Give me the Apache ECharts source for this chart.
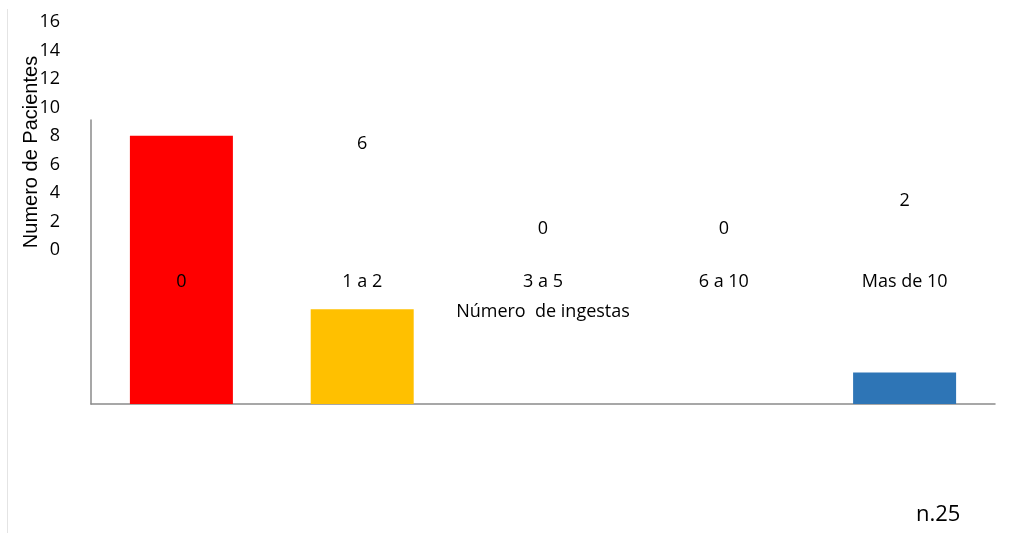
<!DOCTYPE html>
<html>
<head>
<meta charset="utf-8">
<script src="https://cdn.jsdelivr.net/npm/echarts@6/dist/echarts.min.js"></script>
<style>
  html, body { margin: 0; padding: 0; background: #fff; }
  #chart { width: 1013px; height: 533px; }
</style>
</head>
<body>
<div id="chart"></div>
<script>
// categorias y valores (n = 25)
const categorias = ['0', '1 a 2', '3 a 5', '6 a 10', 'Mas de 10'];
const pacientes = [17, 6, 0, 0, 2];
const colores = ['#FF0000', '#FFC000', '#A5A5A5', '#4472C4', '#2E75B6'];
const ticksY = [0, 2, 4, 6, 8, 10, 12, 14, 16];

const fuente = '"Open Sans"';
const chart = echarts.init(document.getElementById('chart'));

const option = {
  animation: false,
  textStyle: { fontFamily: fuente },
  title: {
    text: 'n.25',
    left: 911,
    top: 499,
    textStyle: { fontFamily: fuente, fontSize: 22, fontWeight: 'normal', color: '#000' }
  },
  graphic: [
    {
      type: 'line',
      shape: { x1: 7.5, y1: 9, x2: 7.5, y2: 533 },
      style: { stroke: '#e4e4e4', lineWidth: 1 }
    },
    {
      type: 'text',
      x: 31,
      y: 152,
      rotation: Math.PI / 2,
      style: {
        text: 'Numero de Pacientes',
        font: '20px "Liberation Sans"',
        fill: '#000',
        align: 'center',
        verticalAlign: 'middle'
      }
    }
  ],
  grid: [
    // barras visibles
    { left: 91, right: 18, top: 120, bottom: 129 },
    // etiquetas del eje (desplazadas, como en el original)
    { left: 91, right: 18, top: 22, bottom: 283 }
  ],
  xAxis: [
    {
      type: 'category',
      gridIndex: 0,
      data: categorias,
      axisLine: { lineStyle: { color: '#8a8a8a', width: 1.5 } },
      axisTick: { show: false },
      axisLabel: { show: false }
    },
    {
      type: 'category',
      gridIndex: 1,
      z: 10, // las etiquetas quedan encima de las barras
      data: categorias,
      axisLine: { show: false },
      axisTick: { show: false },
      axisLabel: {
        color: '#000', fontSize: 18, margin: 23, fontFamily: fuente,
        interval: 0
      },
      name: 'Número  de ingestas',
      nameLocation: 'middle',
      nameGap: 53,
      nameTextStyle: { color: '#000', fontSize: 18, fontFamily: fuente }
    }
  ],
  yAxis: [
    {
      type: 'value',
      gridIndex: 0,
      min: 0,
      max: 18,
      axisLine: { show: true, lineStyle: { color: '#8a8a8a', width: 1.5 } },
      axisTick: { show: false },
      axisLabel: { show: false },
      splitLine: { show: false }
    },
    {
      type: 'value',
      gridIndex: 1,
      min: 0,
      max: ticksY[ticksY.length - 1],
      interval: 2,
      axisLine: { show: false },
      axisTick: { show: false },
      axisLabel: { color: '#000', fontSize: 18, margin: 31, fontFamily: fuente },
      splitLine: { show: false }
    }
  ],
  series: [
    {
      type: 'bar',
      xAxisIndex: 0,
      yAxisIndex: 0,
      barWidth: 103,
      data: pacientes.map((v, i) => ({ value: v, itemStyle: { color: colores[i] } }))
    },
    {
      // barras invisibles que sólo llevan las etiquetas de valor
      type: 'bar',
      xAxisIndex: 1,
      yAxisIndex: 1,
      barWidth: 103,
      itemStyle: { color: 'rgba(0,0,0,0)' },
      label: {
        show: true,
        position: 'top',
        distance: 12,
        color: '#000',
        fontSize: 18,
        fontFamily: fuente
      },
      data: pacientes.map(v => ({ value: v, label: { show: v <= 16 } }))
    }
  ]
};

chart.setOption(option);
window.addEventListener('resize', () => chart.resize());
</script>
</body>
</html>
